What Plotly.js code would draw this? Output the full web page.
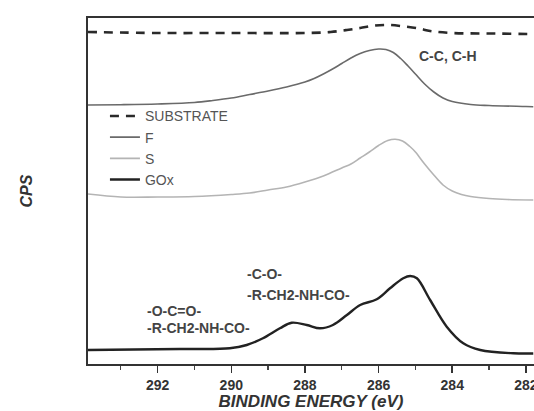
<!DOCTYPE html>
<html>
<head>
<meta charset="utf-8">
<script src="https://cdn.plot.ly/plotly-3.0.1.min.js"></script>
<style>html,body{margin:0;padding:0;background:#fff;}#chart{width:534px;height:411px;}</style>
</head>
<body>
<div id="chart"></div>
<script>
// Binding energy (eV) and intensity (arbitrary CPS, stacked offsets as drawn)
const substrateE = [293.9, 292.0, 290.0, 288.0, 287.3, 286.86, 286.5, 286.1, 285.7, 285.3, 284.9, 284.6, 284.0, 283.0, 281.8];
const substrateY = [332, 331, 331, 331, 332, 334, 336, 338.5, 339, 337.5, 335.5, 333, 331, 330.5, 330];

const fE = [293.9, 293.0, 292.0, 291.0, 290.5, 290.0, 289.5, 289.0, 288.5, 288.0, 287.75, 287.5, 287.25, 287.0, 286.75, 286.5, 286.25, 286.0, 285.8, 285.6, 285.4, 285.2, 285.0, 284.75, 284.5, 284.25, 284.0, 283.5, 283.0, 282.0, 281.8];
const fY = [259, 259.3, 260, 261.5, 263.5, 266, 269.5, 273, 277, 282, 285.5, 290, 295, 300.5, 306, 310.5, 313.5, 315, 314.5, 311.5, 305.5, 298, 290, 280, 272, 266, 262.5, 259.5, 258.5, 257.5, 257.3];

const sE = [293.9, 293.0, 292.0, 291.0, 290.0, 289.5, 289.0, 288.5, 288.0, 287.5, 287.0, 286.75, 286.5, 286.25, 286.0, 285.75, 285.55, 285.35, 285.15, 285.0, 284.75, 284.5, 284.25, 284.0, 283.75, 283.5, 283.0, 282.5, 281.8];
const sY = [170, 167, 167, 167.5, 169.5, 171, 174, 177, 182, 188, 196, 200, 206, 212, 218.5, 223.5, 224.8, 223, 217.5, 212, 200, 189, 179, 173, 169.5, 167.5, 165.5, 164.5, 164];

const goxE = [293.9, 291.4, 290.04, 289.58, 289.14, 288.68, 288.36, 287.95, 287.59, 287.24, 286.86, 286.5, 286.05, 285.69, 285.33, 285.14, 284.96, 284.6, 284.15, 283.7, 283.24, 282.34, 281.8];
const goxY = [14, 15, 15.7, 19, 25.7, 35.7, 41.3, 39, 35.7, 39, 49, 59, 64.7, 75.7, 85.7, 88, 85.7, 64, 37.3, 20.7, 14, 10.7, 10.5];

const xTicks = [292, 290, 288, 286, 284, 282];

const labels = [
  {text: 'C-C, C-H', x: 284.95, y: 308},
  {text: '-C-O-', x: 289.63, y: 90},
  {text: '-R-CH2-NH-CO-', x: 289.63, y: 69},
  {text: '-O-C=O-', x: 292.35, y: 53},
  {text: '-R-CH2-NH-CO-', x: 292.35, y: 36}
];

const traces = [
  {x: substrateE, y: substrateY, name: 'SUBSTRATE', mode: 'lines', line: {color: '#2a2a2a', width: 2.6, dash: '9px,7px', shape: 'spline'}},
  {x: fE, y: fY, name: 'F', mode: 'lines', line: {color: '#6a6a6a', width: 1.6, shape: 'spline'}},
  {x: sE, y: sY, name: 'S', mode: 'lines', line: {color: '#b4b4b4', width: 1.6, shape: 'spline'}},
  {x: goxE, y: goxY, name: 'GOx', mode: 'lines', line: {color: '#222222', width: 2.4, shape: 'spline'}}
];

const layout = {
  width: 534, height: 411,
  margin: {l: 88, r: 0, t: 18, b: 47},
  paper_bgcolor: '#ffffff', plot_bgcolor: '#ffffff',
  font: {family: 'Liberation Sans, Arial, sans-serif', color: '#333'},
  showlegend: true,
  legend: {x: 0.038, y: 0.762, xanchor: 'left', yanchor: 'top', bgcolor: 'rgba(0,0,0,0)',
           font: {size: 14, color: '#555'}, tracegroupgap: 0, itemwidth: 30},
  xaxis: {
    range: [293.89, 281.78], tickvals: xTicks, ticktext: xTicks.map(v => '<b>' + v + '</b>'),
    showgrid: false, zeroline: false, showline: true, linecolor: '#333', linewidth: 2,
    mirror: true, ticks: 'outside', ticklen: 7, tickwidth: 1.5, tickcolor: '#333',
    ticklabeloverflow: 'allow',
    minor: {dtick: 1, tick0: 281, ticks: 'outside', ticklen: 4, tickwidth: 1.2, tickcolor: '#444'},
    tickfont: {size: 14, color: '#333', family: 'Liberation Sans, Arial, sans-serif'},
    title: {text: '<b><i>BINDING ENERGY (eV)</i></b>', font: {size: 17, color: '#333'}, standoff: 3}
  },
  yaxis: {
    range: [0, 346], showticklabels: false, ticks: '', showgrid: false, zeroline: false,
    showline: true, linecolor: '#333', linewidth: 2,
    title: {text: '<b><i>CPS</i></b>', font: {size: 16, color: '#333'}, standoff: 49}
  },
  annotations: labels.map(l => ({
    x: l.x, y: l.y, xref: 'x', yref: 'y', text: '<b>' + l.text + '</b>', showarrow: false,
    xanchor: 'left', yanchor: 'middle', font: {size: 14, color: '#444'}
  }))
};

Plotly.newPlot('chart', traces, layout, {staticPlot: true, displayModeBar: false});
</script>
</body>
</html>
